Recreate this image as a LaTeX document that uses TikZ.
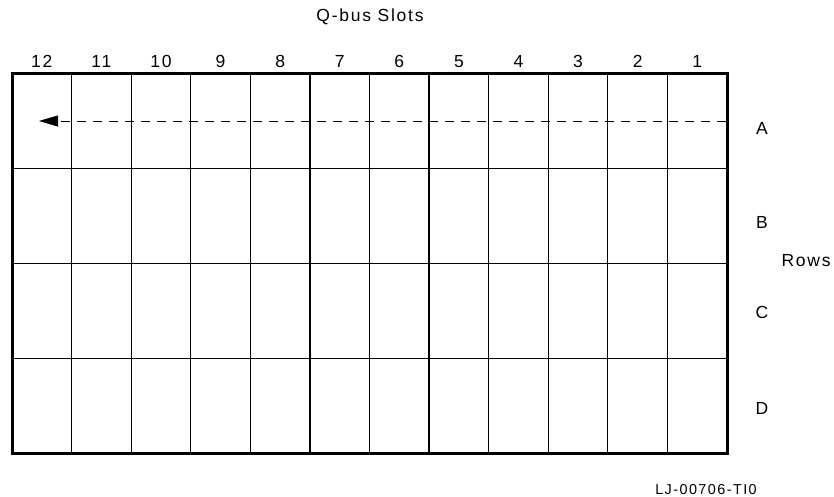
\documentclass[tikz,border=0pt]{standalone}
\usepackage{fontspec}
\setmainfont{Liberation Sans}[LetterSpace=10]
\usetikzlibrary{arrows.meta}

\begin{document}
\begin{tikzpicture}[x=1pt, y=-1pt, font=\fontsize{17.5}{20}\selectfont,
    label text/.style={anchor=base, inner sep=0pt}]
    % Define sizes of the card cage
    \def\cageLeft{12}
    \def\cageRight{727}
    \def\cageTop{74}
    \def\cageBottom{453}
    \def\colWidth{59.583}
    \def\rowHeight{94.75}

    \useasboundingbox (0,0) rectangle (834,497);

    % Draw slot lines
    \foreach \i in {1,...,11}
        \draw[line width=1.3pt] (\cageLeft+\i*\colWidth,\cageTop) -- (\cageLeft+\i*\colWidth,\cageBottom);

    % Draw row lines
    \foreach \j in {1,...,3}
        \draw[line width=1.3pt] (\cageLeft,\cageTop+\j*\rowHeight) -- (\cageRight,\cageTop+\j*\rowHeight);

    % Draw the outer frame
    \draw[line width=3pt] (\cageLeft,\cageTop) rectangle (\cageRight,\cageBottom);

    % Label the slots
    \foreach \n in {1,...,12}
        \node[label text] (slot\n) at (\cageRight-\n*\colWidth+0.5*\colWidth,68) {\n};
    \node[label text] (title) at (370,22) {Q-bus Slots};

    % Label the rows
    \node[label text] (rowA) at (762,135) {A};
    \node[label text] (rowB) at (762,228) {B};
    \node[label text] (rowC) at (762,318) {C};
    \node[label text] (rowD) at (762,414) {D};
    \node[label text] (rows) at (806,266) {Rows};

    % Draw the fill direction arrow
    \coordinate (arrowStart) at (\cageRight-1.5,121);
    \coordinate (arrowEnd) at (39,121);
    \draw[line width=0.9pt, dash pattern=on 9pt off 7pt, -{Triangle[length=19pt,width=11pt]}] (arrowStart) -- (arrowEnd);

    % Figure number
    \node[label text] (figId) at (706,494) {\fontsize{14.4}{16}\selectfont LJ-00706-TI0};
\end{tikzpicture}
\end{document}
